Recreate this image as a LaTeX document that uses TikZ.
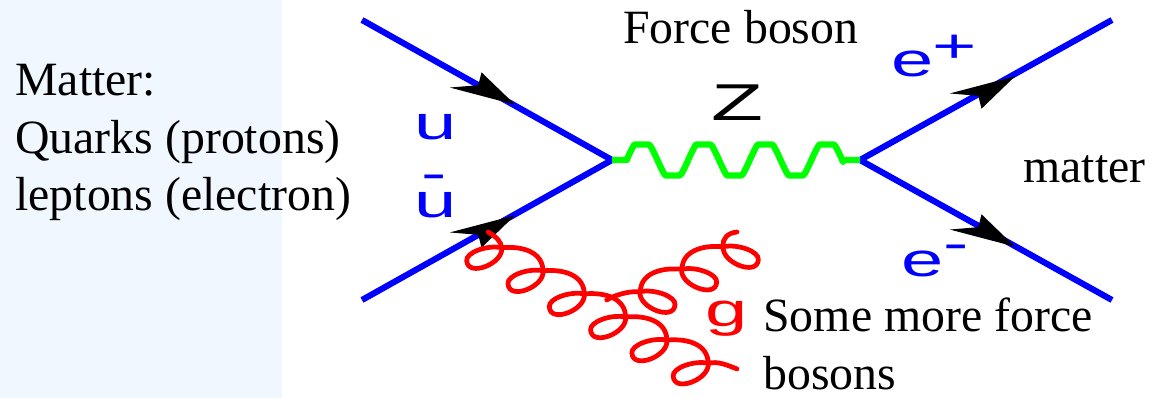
\documentclass[tikz,border=0pt]{standalone}
\usepackage{fontspec}
\setmainfont{Liberation Serif}
\setsansfont{Liberation Sans}
\definecolor{panelblue}{HTML}{F0F7FF}
\tikzset{
    fermion/.style={draw=blue,line width=3.5pt},
    zboson/.style={draw=green,line width=3.6pt,line join=round},
    gluon/.style={draw=red,line width=2.7pt,line cap=round},
    words/.style={inner sep=0pt,anchor=north west,align=left,font=\fontsize{27.2}{32.8}\selectfont},
    glabel/.style={inner sep=0pt,transform shape,font=\sffamily\fontsize{27}{30}\selectfont,xscale=1.6},
    fermtip/.pic={
        \fill[black,draw=black,line width=1pt] (0,0) -- (-30,-29) -- (-33,-17) -- (-57,-15) -- cycle;
    },
    % One curl of a gluon and the arc on to the next curl
    curl/.pic={
        \draw[gluon] (0,0) .. controls (2,16) and (-34,30) .. (-35,13) .. controls (-36,5) and (-15,-3) .. (0,0);
    },
    curlarc/.pic={
        \draw[gluon] (0,0) .. controls (22,-2) and (41,5) .. (41.3,23.1);
    }
}
\begin{document}
\begin{tikzpicture}[x=0.02cm,y=-0.02cm]
    \useasboundingbox (0,0) rectangle (1150,398);
    \fill[panelblue] (0,0) rectangle (282,398);
    % Vertices and free ends
    \coordinate (vl) at (612,160);
    \coordinate (vr) at (860,160);
    \coordinate (uin) at (362,20);
    \coordinate (ubarin) at (362,300);
    \coordinate (epout) at (1112,20);
    \coordinate (emout) at (1112,300);
    \coordinate (zin) at (627,160);
    \coordinate (zout) at (843,160);
    \coordinate (gstart) at (488,232);
    \coordinate (gfirst) at (501.7,247.7);
    \coordinate (glast) at (708.2,363.2);
    \coordinate (gend) at (737,369);
    \coordinate (gmid) at (606.7,300);
    \coordinate (gtwolast) at (640,291.7);
    \coordinate (gtwofirst) at (723.3,246.7);
    \coordinate (gtop) at (737,232);
    % Fermion lines
    \draw[fermion] (uin) -- (vl);
    \draw[fermion] (ubarin) -- (vl);
    \draw[fermion] (vr) -- (epout);
    \draw[fermion] (vr) -- (emout);
    \pic at (512,103) {fermtip};
    \pic[yscale=-1] at (512,217) {fermtip};
    \pic[yscale=-1] at (1012,78) {fermtip};
    \pic at (1012,245) {fermtip};
    % Z boson
    \draw[zboson] (vl) -- (zin) -- plot[domain=627:843,samples=120] (\x,{160-15.5*min(1,max(-1,1.4*cos((\x-642)*5.844)))}) -- (zout) -- (vr);
    % Gluons
    \draw[gluon] (gstart) .. controls (497,237) and (501,242) .. (gfirst);
    \foreach \i in {0,...,5}{
        \pic at ({501.7+\i*41.3},{247.7+\i*23.1}) {curl};
    }
    \foreach \i in {0,...,4}{
        \pic at ({501.7+\i*41.3},{247.7+\i*23.1}) {curlarc};
    }
    \draw[gluon] (glast) .. controls (718,361) and (727,365) .. (gend);
    \draw[gluon] (gtop) .. controls (728,233) and (722,238) .. (gtwofirst);
    \foreach \i in {0,1,2}{
        \pic[xscale=-1] at ({723.3-\i*41.65},{246.7+\i*22.5}) {curl};
    }
    \foreach \i in {0,1}{
        \pic[xscale=-1,yscale=0.97] at ({723.3-\i*41.65},{246.7+\i*22.5}) {curlarc};
    }
    \draw[gluon] (gtwolast) .. controls (628,291) and (615,295) .. (gmid);
    % Labels
    \node[words] (mattertext) at (15,64) {Matter:\\Quarks (protons)\\leptons (electron)};
    \node[words] (forcetext) at (623,10) {Force boson};
    \node[words] (mattertwo) at (1023,155) {matter};
    \node[words] (sometext) at (763,298) {Some more force\\bosons};
    \node[glabel,text=blue] (ulabel) at (436,127) {u};
    \node[glabel,text=blue] (ubarbar) at (434,182) {-};
    \node[glabel,text=blue] (ubarlabel) at (436,205) {u};
    \node[glabel,font=\sffamily\fontsize{29.5}{30}\selectfont,xscale=1.025] (zlabel) at (737,102.5) {Z};
    \node[glabel,text=blue] (eplabel) at (913,64) {e};
    \node[glabel,text=blue] (epsign) at (955,49) {+};
    \node[glabel,text=blue] (emlabel) at (923,264) {e};
    \node[glabel,text=blue] (emsign) at (956,252) {-};
    \node[glabel,text=red] (glabeltext) at (727,319) {g};
\end{tikzpicture}
\end{document}
